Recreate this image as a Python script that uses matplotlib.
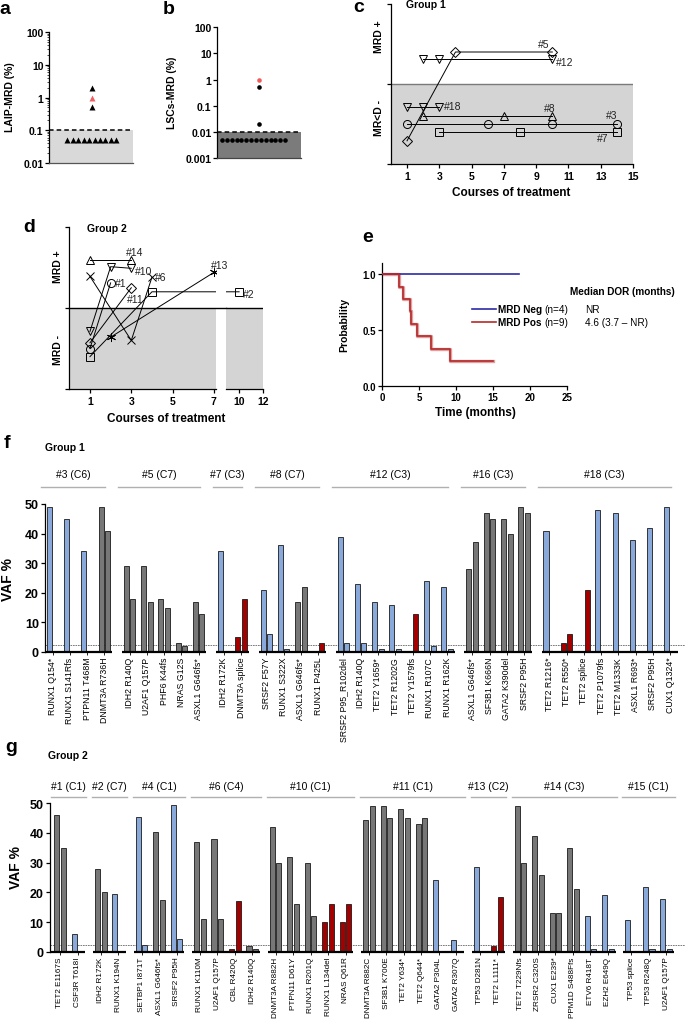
import matplotlib
matplotlib.use('Agg')
import matplotlib.pyplot as plt
import numpy as np

plt.rcParams['font.family'] = ['Liberation Sans', 'DejaVu Sans']

# ---------------- DATA ----------------
# panel a: LAIP-MRD (%)
laip_values = [2.0, 1.0, 0.5] + [0.05] * 10
laip_red = [False, True, False] + [False] * 10
laip_threshold = 0.1

# panel b: LSCs-MRD (%)
lsc_values = [1.0, 0.5, 0.02] + [0.005] * 14
lsc_red = [True, False, False] + [False] * 14
lsc_threshold = 0.01

# panel c: Group 1 MRD course (level 0-5 = MRD-, 5-10 = MRD+)
c_ids = ['#5', '#12', '#18', '#8', '#3', '#7']
c_courses = [[1, 4, 10], [2, 3, 10], [1, 2, 3], [2, 7, 10], [1, 6, 10, 14], [3, 8, 14]]
c_levels = [[1.45, 7.0, 7.0], [6.55, 6.55, 6.55], [3.55, 3.55, 3.55],
            [3.0, 3.0, 3.0], [2.5, 2.5, 2.5, 2.5], [2.0, 2.0, 2.0]]
c_markers = ['D', 'v', 'v', '^', 'o', 's']

# panel d: Group 2 MRD course
d_ids = ['#14', '#10', '#6', '#1', '#11', '#13', '#2']
d_courses = [[1, 3], [1, 2, 3], [1, 3, 4], [1, 2], [1, 3], [2, 7], [1, 4, 10]]
d_levels = [[7.95, 7.95], [3.55, 7.55, 7.45], [6.95, 3.0, 6.9], [2.5, 6.55],
            [2.85, 6.25], [3.2, 7.2], [2.0, 6.0, 6.0]]
d_markers = ['^', 'v', 'x', 'o', 'D', (6, 2, 0), 's']

# panel e: Kaplan-Meier duration of response
neg_time = [0, 18.5]
neg_surv = [1.0, 1.0]
pos_time = [0, 2.3, 2.85, 3.7, 3.9, 4.7, 6.6, 9.1, 15.0]
pos_surv = [1.0, 0.889, 0.778, 0.667, 0.556, 0.444, 0.333, 0.222, 0.222]

# panel f: Group 1 VAF
f_groups = ['#3 (C6)', '#5 (C7)', '#7 (C3)', '#8 (C7)', '#12 (C3)', '#16 (C3)', '#18 (C3)']
f_sizes = [4, 5, 2, 4, 7, 4, 8]
f_muts = ['RUNX1 Q154*', 'RUNX1 S141Rfs', 'PTPN11 T468M', 'DNMT3A R736H',
          'IDH2 R140Q', 'U2AF1 Q157P', 'PHF6 K44fs', 'NRAS G12S', 'ASXL1 G646fs*',
          'IDH2 R172K', 'DNMT3A splice',
          'SRSF2 F57Y', 'RUNX1 S322X', 'ASXL1 G646fs*', 'RUNX1 P425L',
          'SRSF2 P95_R102del', 'IDH2 R140Q', 'TET2 Y1659*', 'TET2 R1202G', 'TET2 Y1579fs',
          'RUNX1 R107C', 'RUNX1 R162K',
          'ASXL1 G646fs*', 'SF3B1 K666N', 'GATA2 K390del', 'SRSF2 P95H',
          'TET2 R1216*', 'TET2 R550*', 'TET2 splice', 'TET2 P1079fs', 'TET2 M1333K',
          'ASXL1 R693*', 'SRSF2 P95H', 'CUX1 Q1324*']
f_vaf1 = [49, 45, 34, 49,
          29, 29, 18, 3, 17,
          34, 5,
          21, 36, 17, 0,
          39, 23, 17, 16, 0, 24, 22,
          28, 47, 45, 49,
          41, 3, 0, 48, 47, 38, 42, 49]
f_vaf2 = [0, 0, 0, 41,
          18, 17, 15, 2, 13,
          0, 18,
          6, 1, 22, 3,
          3, 3, 1, 1, 13, 2, 1,
          37, 45, 40, 47,
          0, 6, 21, 0, 0, 0, 0, 0]
f_kind = list('bbbg' 'ggggg' 'br' 'bbgr' 'bbbbrbb' 'gggg' 'brrbbbbb')
f_threshold = 2.3

# panel g: Group 2 VAF
g_groups = ['#1 (C1)', '#2 (C7)', '#4 (C1)', '#6 (C4)', '#10 (C1)', '#11 (C1)',
            '#13 (C2)', '#14 (C3)', '#15 (C1)']
g_sizes = [2, 2, 3, 4, 5, 6, 2, 6, 3]
g_muts = ['TET2 E1167S', 'CSF3R T618I',
          'IDH2 R172K', 'RUNX1 K194N',
          'SETBP1 I871T', 'ASXL1 G646fs*', 'SRSF2 P95H',
          'RUNX1 K110M', 'U2AF1 Q157P', 'CBL R420Q', 'IDH2 R140Q',
          'DNMT3A R882H', 'PTPN11 D61Y', 'RUNX1 R201Q', 'RUNX1 L134del', 'NRAS Q61R',
          'DNMT3A R882C', 'SF3B1 K700E', 'TET2 Y634*', 'TET2 Q644*', 'GATA2 P304L', 'GATA2 R307Q',
          'TP53 D281N', 'TET2 L1111*',
          'TET2 T229Nfs', 'ZRSR2 C320S', 'CUX1 E239*', 'PPM1D S488Ffs', 'ETV6 R418T', 'EZH2 E649Q',
          'TP53 splice', 'TP53 R248Q', 'U2AF1 Q157P']
g_vaf1 = [46, 6,
          28, 19.6,
          45.3, 40.4, 49.3,
          37, 38, 1, 2,
          42, 32, 30, 10, 10,
          44.3, 49.2, 48.2, 43.1, 24, 3.9,
          28.4, 2,
          49, 39, 13, 35, 12, 19,
          10.7, 21.7, 17.8]
g_vaf2 = [35, 0,
          20, 0,
          2.4, 17.3, 4.3,
          11, 11, 17, 1,
          30, 16, 12, 16, 16,
          49.2, 45.2, 45.2, 45.2, 0, 0,
          0, 18.3,
          30, 26, 13, 21, 0.8, 0.8,
          0, 0.8, 0.8]
g_kind = list('gb' 'gb' 'bgb' 'ggrg' 'gggrr' 'ggggbb' 'br' 'ggggbb' 'bbb')
g_threshold = 2.2

# ---------------- LAYOUT / STYLE ----------------
W, H = 685, 1020
fig = plt.figure(figsize=(W / 100, H / 100), dpi=100)
LW = 0.9
C_BLUE = '#88a9d9'
C_GRAY = '#777777'
C_RED = '#a40000'
KIND_COL = {'b': C_BLUE, 'g': C_GRAY, 'r': C_RED}


def px_ax(x0, y0, x1, y1):
    return fig.add_axes([x0 / W, 1 - y1 / H, (x1 - x0) / W, (y1 - y0) / H])


def ftext(x, y, s, **kw):
    return fig.text(x / W, 1 - y / H, s, **kw)


def style_spines(ax, left=True, bottom=True):
    for s in ['top', 'right']:
        ax.spines[s].set_visible(False)
    ax.spines['left'].set_visible(left)
    ax.spines['bottom'].set_visible(bottom)
    for s in ['left', 'bottom']:
        ax.spines[s].set_linewidth(LW)
    ax.set_facecolor('none')


def bold_ticks(ax, size=6.5):
    for lab in ax.get_xticklabels() + ax.get_yticklabels():
        lab.set_fontweight('bold')
        lab.set_fontsize(size)


# panel letters
for letter, x, y in [('a', 5, 10), ('b', 169, 10), ('c', 359, 7), ('d', 29, 227),
                     ('e', 368, 238), ('f', 7, 443), ('g', 11, 748)]:
    ftext(x, y, letter, fontsize=14, fontweight='bold', ha='center', va='center')

# ---------------- panel a ----------------
ax = px_ax(49, 33.3, 133, 164)
ax.set_yscale('log')
ax.set_ylim(0.01, 100)
ax.set_xlim(0, 1)
ax.axhspan(0.01, laip_threshold, color='#d9d9d9', lw=0, zorder=0)
ax.axhline(laip_threshold, color='k', ls=(0, (3, 2)), lw=1.1, zorder=2)
low = [v for v in laip_values if v < laip_threshold]
xs_low = np.linspace(0.22, 0.80, len(low))
k = 0
for v, r in zip(laip_values, laip_red):
    if v < laip_threshold:
        xx = xs_low[k]; k += 1
    else:
        xx = 0.51
    ax.plot(xx, v, marker='^', ms=3.8, color='#f06060' if r else 'k', mec='none', zorder=3)
style_spines(ax)
ax.spines['bottom'].set_color('#555555')
ax.set_xticks([])
ax.set_yticks([0.01, 0.1, 1, 10, 100])
ax.set_yticklabels(['0.01', '0.1', '1', '10', '100'])
ax.tick_params(axis='y', which='major', length=3, width=LW, pad=1)
ax.tick_params(axis='y', which='minor', length=1.5, width=0.5)
bold_ticks(ax, 7.5)
ftext(10, 97, 'LAIP-MRD (%)', rotation=90, fontsize=7.5, fontweight='bold', ha='center', va='center')

# ---------------- panel b ----------------
ax = px_ax(217, 28.3, 301, 159)
ax.set_yscale('log')
ax.set_ylim(0.001, 100)
ax.set_xlim(0, 1)
ax.axhspan(0.001, lsc_threshold, color='#7b7b7b', lw=0, zorder=0)
ax.axhline(lsc_threshold, color='k', ls=(0, (3, 2)), lw=1.1, zorder=2)
low = [v for v in lsc_values if v < lsc_threshold]
xs_low = np.linspace(0.06, 0.81, len(low))
k = 0
for v, r in zip(lsc_values, lsc_red):
    if v < lsc_threshold:
        xx = xs_low[k]; k += 1
    else:
        xx = 0.5
    ax.plot(xx, v, marker='o', ms=3.3, color='#f25a5a' if r else 'k', mec='none', zorder=3)
style_spines(ax)
ax.spines['bottom'].set_color('#444444')
ax.set_xticks([])
ax.set_yticks([0.001, 0.01, 0.1, 1, 10, 100])
ax.set_yticklabels(['0.001', '0.01', '0.1', '1', '10', '100'])
ax.tick_params(axis='y', which='major', length=3, width=LW, pad=1)
ax.tick_params(axis='y', which='minor', length=1.5, width=0.5)
bold_ticks(ax, 7.5)
ftext(172, 93, 'LSCs-MRD (%)', rotation=90, fontsize=7.5, fontweight='bold', ha='center', va='center')

# ---------------- panel c ----------------
ax = px_ax(390.9, 5, 633, 165)
ax.set_xlim(0, 15)
ax.set_ylim(0, 10)
ax.axhspan(0, 5, color='#d4d4d4', lw=0, zorder=0)
ax.axhline(5, color='#7a7a7a', lw=1.0, zorder=1)
for xs, ys, m in zip(c_courses, c_levels, c_markers):
    ms = 5.2 if m == 'D' else 5.8
    ax.plot(xs, ys, color='k', lw=0.7, marker=m, ms=ms, mfc='none', mec='k', mew=0.7, zorder=3)
c_label_pos = {'#5': (9.45, 7.5, 'center'), '#12': (10.2, 6.4, 'left'), '#18': (3.3, 3.65, 'left'),
               '#8': (9.85, 3.5, 'center'), '#3': (13.7, 3.05, 'center'), '#7': (13.1, 1.6, 'center')}
for cid in c_ids:
    x, y, ha = c_label_pos[cid]
    ax.text(x, y, cid, fontsize=7.5, ha=ha, va='center', color='#222222')
style_spines(ax)
ax.set_xticks(range(1, 16, 2))
ax.set_yticks([0, 5, 10])
ax.set_yticklabels([])
ax.tick_params(axis='both', length=3, width=LW, pad=2)
bold_ticks(ax, 7.5)
ftext(426, 5, 'Group 1', fontsize=7.5, fontweight='bold', ha='center', va='center')
ftext(379, 37, 'MRD +', rotation=90, fontsize=7.5, fontweight='bold', ha='center', va='center')
ftext(379, 118, 'MR<D -', rotation=90, fontsize=7.5, fontweight='bold', ha='center', va='center')
ftext(511, 193, 'Courses of treatment', fontsize=8.5, fontweight='bold', ha='center', va='center')

# ---------------- panel d ----------------
d1 = px_ax(69.3, 228, 216, 390)
d2 = px_ax(226, 228, 263, 390)
d1.set_xlim(0, 7.1)
d2.set_xlim(8.9, 12)
for a in (d1, d2):
    a.set_ylim(0, 10)
    a.axhspan(0, 5, color='#d4d4d4', lw=0, zorder=0)
    for xs, ys, m in zip(d_courses, d_levels, d_markers):
        ms = 5.0 if m == 'D' else (6.5 if isinstance(m, tuple) else 5.8)
        a.plot(xs, ys, color='k', lw=0.7, marker=m, ms=ms, mfc='none', mec='k', mew=0.7, zorder=3)
d1.plot([0, 7.58], [5, 5], color='k', lw=1.0, clip_on=False, zorder=2)
d2.axhline(5, color='k', lw=1.0, zorder=2)
d_label_pos = {'#14': (d1, 3.17, 8.45, 'center'), '#10': (d1, 3.2, 7.3, 'left'),
               '#6': (d1, 4.15, 6.9, 'left'), '#1': (d1, 2.2, 6.55, 'left'),
               '#11': (d1, 3.18, 5.55, 'center'), '#13': (d1, 7.3, 7.65, 'center'),
               '#2': (d2, 10.32, 5.85, 'left')}
for did in d_ids:
    a, x, y, ha = d_label_pos[did]
    a.text(x, y, did, fontsize=7.5, ha=ha, va='center', color='#222222')
style_spines(d1)
style_spines(d2, left=False)
d1.set_xticks([1, 3, 5, 7])
d2.set_xticks([10, 12])
d1.set_yticks([0, 5, 10])
d1.set_yticklabels([])
d2.set_yticks([])
for a in (d1, d2):
    a.tick_params(axis='both', length=3, width=LW, pad=2)
    bold_ticks(a, 7.5)
ftext(107, 229, 'Group 2', fontsize=7.5, fontweight='bold', ha='center', va='center')
ftext(58, 267, 'MRD +', rotation=90, fontsize=7.5, fontweight='bold', ha='center', va='center')
ftext(58, 350, 'MRD -', rotation=90, fontsize=7.5, fontweight='bold', ha='center', va='center')
ftext(166, 419, 'Courses of treatment', fontsize=8.5, fontweight='bold', ha='center', va='center')

# ---------------- panel e ----------------
ax = px_ax(382.3, 264, 567, 387)
ax.set_xlim(0, 25)
ax.set_ylim(0, 1.1)
C_NEG = '#2b2ba6'
C_POS = '#b52a2a'
ax.step(neg_time, neg_surv, where='post', color=C_NEG, lw=1.2, zorder=3)
ax.step(pos_time, pos_surv, where='post', color='#e0a0a0', lw=2.4, zorder=2)
ax.step(pos_time, pos_surv, where='post', color=C_POS, lw=1.2, zorder=3)
style_spines(ax)
ax.set_xticks(range(0, 26, 5))
ax.set_yticks([0, 0.5, 1.0])
ax.set_yticklabels(['0.0', '0.5', '1.0'])
ax.tick_params(axis='both', length=3, width=LW, pad=1.5)
bold_ticks(ax, 7)
ftext(475, 413, 'Time (months)', fontsize=8.5, fontweight='bold', ha='center', va='center')
ftext(344, 325, 'Probability', rotation=90, fontsize=7.5, fontweight='bold', ha='center', va='center')
ftext(622, 292, 'Median DOR (months)', fontsize=7.2, fontweight='bold', ha='center', va='center')
for yy, col, lab, n, med in [(310, C_NEG, 'MRD Neg', '(n=4)', 'NR'),
                             (322.7, C_POS, 'MRD Pos', '(n=9)', '4.6 (3.7 \u2013 NR)')]:
    fig.add_artist(plt.Line2D([472 / W, 496 / W], [1 - yy / H, 1 - yy / H], color=col, lw=1.2))
    ftext(498, yy, lab, fontsize=7.2, fontweight='bold', ha='left', va='center')
    ftext(544, yy, n, fontsize=7.2, ha='left', va='center')
    ftext(585, yy, med, fontsize=7.2, ha='left', va='center')


# ---------------- panels f / g ----------------
def vaf_panel(box, groups, sizes, muts, v1, v2, kinds, gap, thr, unit_px, first_px,
              head_y, head_ty, head_off, grp_label, grp_xy, ylab_xy, lab_fs):
    ax = px_ax(*box)
    pos = []
    bounds = []
    u = 0.0
    for gi, n in enumerate(sizes):
        if gi > 0:
            u += gap
        bounds.append((u, u + n - 1))
        pos.extend([u + k for k in range(n)])
        u += n - 1
    pos = np.array(pos)
    left = (box[0] - first_px) / unit_px
    right = (box[2] - first_px) / unit_px
    ax.set_xlim(left, right)
    ax.set_ylim(0, 50)
    cols = [KIND_COL[k] for k in kinds]
    off, bw = 0.19, 0.29
    ax.bar(pos - off, v1, width=bw, color=cols, edgecolor='#1a1a1a', lw=0.6, zorder=3)
    ax.bar(pos + off, v2, width=bw, color=cols, edgecolor='#1a1a1a', lw=0.6, zorder=3)
    ax.axhline(thr, color='#666666', ls=(0, (2, 1)), lw=0.6, zorder=1)
    for gi, (s, e) in enumerate(bounds):
        x0 = left if gi == 0 else s - 0.45
        ax.plot([x0, e + 0.45], [0, 0], color='k', lw=1.6, solid_capstyle='butt',
                clip_on=False, zorder=4)
        hx0, hx1 = s + head_off[0], e + head_off[1]
        ax.plot([hx0, hx1], [head_y, head_y], color='#b0b0b0', lw=1.0, clip_on=False)
        ax.text((hx0 + hx1) / 2, head_ty, groups[gi], fontsize=7.5, ha='center', va='center',
                clip_on=False)
    style_spines(ax, bottom=False)
    ax.set_xticks(pos)
    ax.set_xticklabels(muts, rotation=90, fontsize=lab_fs)
    ax.tick_params(axis='x', length=2, width=0.6, pad=1.5)
    ax.set_yticks(range(0, 51, 10))
    ax.tick_params(axis='y', length=3, width=LW, pad=1.5)
    for lab in ax.get_yticklabels():
        lab.set_fontweight('bold')
        lab.set_fontsize(9)
    ftext(grp_xy[0], grp_xy[1], grp_label, fontsize=7.5, fontweight='bold', ha='left', va='center')
    ftext(ylab_xy[0], ylab_xy[1], 'VAF %', rotation=90, fontsize=10, fontweight='bold',
          ha='center', va='center')
    return ax


vaf_panel((45, 505, 685, 653), f_groups, f_sizes, f_muts, f_vaf1, f_vaf2, f_kind,
          gap=1.46, thr=f_threshold, unit_px=17.27, first_px=52.6,
          head_y=55.6, head_ty=60.0, head_off=(-0.65, 0.05),
          grp_label='Group 1', grp_xy=(45, 448), ylab_xy=(8, 580), lab_fs=6.3)

vaf_panel((50, 804.3, 685, 952.7), g_groups, g_sizes, g_muts, g_vaf1, g_vaf2, g_kind,
          gap=1.33, thr=g_threshold, unit_px=17.5, first_px=60,
          head_y=52.2, head_ty=55.8, head_off=(-0.5, 0.5),
          grp_label='Group 2', grp_xy=(48, 756), ylab_xy=(16, 868), lab_fs=5.9)

fig.savefig('out.png', dpi=100)
